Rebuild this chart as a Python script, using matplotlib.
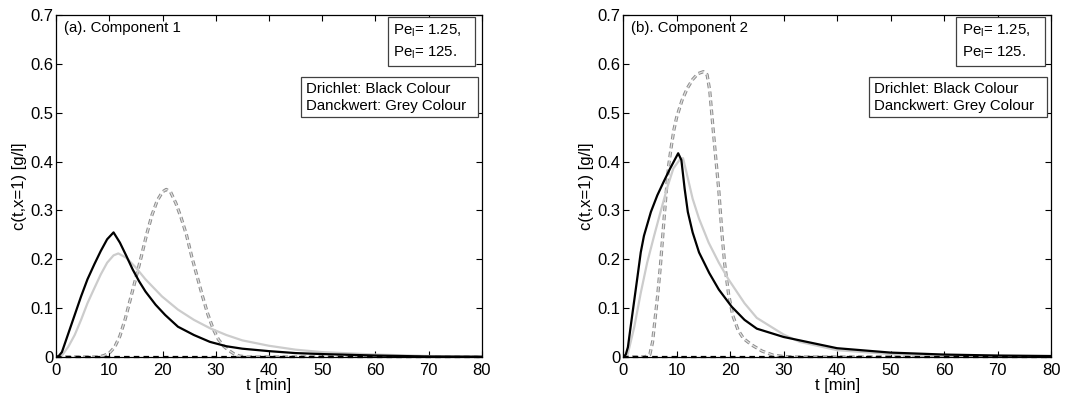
import numpy as np
import matplotlib
matplotlib.use("Agg")
import matplotlib.pyplot as plt
from matplotlib.patches import Rectangle

plt.rcParams['font.family'] = ['Liberation Sans', 'DejaVu Sans']
plt.rcParams['mathtext.fontset'] = 'custom'
plt.rcParams['mathtext.rm'] = 'Liberation Sans'
plt.rcParams['lines.scale_dashes'] = False

# ---- data (t in min, c in g/l) ----
# panel (a), component 1
t_a_black = [0, 0.5, 1.1, 2.3, 3.5, 4.7, 5.9, 7.2, 8.4, 9.6, 10.8, 12, 13.2, 14.4, 15.6,
             16.8, 18.7, 20.5, 22.9, 25.9, 28.9, 32, 35, 40, 45, 50, 60, 70, 80]
c_a_black = [0, 0.002, 0.01, 0.048, 0.086, 0.124, 0.159, 0.19, 0.217, 0.241, 0.255, 0.234,
             0.207, 0.179, 0.155, 0.134, 0.107, 0.086, 0.062, 0.045, 0.031, 0.022, 0.017,
             0.012, 0.008, 0.006, 0.003, 0.001, 0.0005]

t_a_grey = [0, 0.5, 1.1, 2.3, 3.5, 4.7, 5.9, 7.2, 8.4, 9.6, 10.8, 11.7, 13.2, 15, 16.8,
            19.9, 22.9, 25.9, 28.9, 32, 35, 40, 45, 50, 60, 70, 80]
c_a_grey = [0, 0.0005, 0.003, 0.021, 0.045, 0.076, 0.11, 0.141, 0.169, 0.193, 0.208, 0.212,
            0.203, 0.183, 0.159, 0.124, 0.097, 0.076, 0.059, 0.045, 0.034, 0.023, 0.015,
            0.01, 0.005, 0.002, 0.001]

t_a_dash = [0, 8, 9, 10, 11, 12, 13, 14, 15, 16, 17, 18, 19, 20, 20.7, 21.5, 22.5, 23.5,
            24.5, 25.5, 26.5, 27.5, 28.5, 29.5, 30.5, 31.5, 32.5, 33.5, 34.5, 36, 80]
c_a_dash = [0, 0, 0.003, 0.008, 0.02, 0.043, 0.078, 0.12, 0.162, 0.205, 0.25, 0.29, 0.32,
            0.338, 0.343, 0.338, 0.315, 0.285, 0.25, 0.205, 0.165, 0.125, 0.088, 0.058,
            0.036, 0.022, 0.013, 0.006, 0.002, 0, 0]

# panel (b), component 2
t_b_black = [0, 0.5, 0.9, 1.5, 2.1, 2.7, 3.3, 3.9, 5.2, 6.4, 7.6, 8.8, 10.3, 10.9, 11.5,
             12.1, 13, 14.2, 16.1, 17.9, 20.3, 22.7, 25, 30, 40, 50, 60, 70, 80]
c_b_black = [0, 0.005, 0.02, 0.069, 0.117, 0.165, 0.214, 0.248, 0.297, 0.331, 0.359, 0.386,
             0.417, 0.403, 0.345, 0.297, 0.255, 0.214, 0.172, 0.138, 0.103, 0.076, 0.058,
             0.041, 0.018, 0.009, 0.005, 0.003, 0.002]

t_b_grey = [0, 0.5, 0.9, 2.1, 3.3, 4.5, 5.8, 7, 8.2, 9.4, 10.6, 11.2, 11.8, 13, 14.2, 16,
            17.9, 19.7, 22.7, 25, 30, 33, 40, 50, 60, 70, 80]
c_b_grey = [0, 0.002, 0.007, 0.062, 0.131, 0.193, 0.248, 0.297, 0.345, 0.386, 0.404, 0.407,
            0.38, 0.324, 0.283, 0.234, 0.193, 0.159, 0.11, 0.08, 0.046, 0.031, 0.014,
            0.006, 0.003, 0.0015, 0.001]

t_b_dash = [0, 4, 5, 5.5, 6, 6.5, 7, 7.5, 8, 8.5, 9, 9.5, 10, 11, 12, 13, 14, 15, 15.7,
            16.2, 16.8, 17.3, 17.9, 18.5, 19, 19.7, 20.5, 21.5, 22.5, 24, 26, 28, 30, 32, 80]
c_b_dash = [0, 0, 0.005, 0.03, 0.08, 0.13, 0.19, 0.26, 0.33, 0.39, 0.43, 0.465, 0.49, 0.525,
            0.55, 0.568, 0.58, 0.584, 0.578, 0.545, 0.47, 0.41, 0.34, 0.25, 0.19, 0.13,
            0.085, 0.055, 0.038, 0.025, 0.012, 0.004, 0.001, 0, 0]

# black dashed series lies on the axis
t_zero = [0, 80]
c_zero = [0, 0]

panels = [
    ("(a). Component 1", t_a_black, c_a_black, t_a_grey, c_a_grey, t_a_dash, c_a_dash),
    ("(b). Component 2", t_b_black, c_b_black, t_b_grey, c_b_grey, t_b_dash, c_b_dash),
]

x_ticks = [0, 10, 20, 30, 40, 50, 60, 70, 80]
y_ticks = [0, 0.1, 0.2, 0.3, 0.4, 0.5, 0.6, 0.7]

fig = plt.figure(figsize=(10.78, 4.0), dpi=100)
axes_pos = [[0.052, 0.1075, 0.395, 0.855], [0.578, 0.1075, 0.397, 0.855]]

for pos, (title, tb, cb, tg, cg, td, cd) in zip(axes_pos, panels):
    ax = fig.add_axes(pos)
    ax.plot(td, cd, color='0.55', lw=2.3, dashes=(4, 2.5), solid_capstyle='butt')
    ax.plot(td, cd, color='0.88', lw=0.9, dashes=(4, 2.5))
    ax.plot(tg, cg, color='0.8', lw=1.6)
    ax.plot(tb, cb, color='k', lw=1.6)
    ax.plot(t_zero, c_zero, color='k', lw=1.6, dashes=(4, 3), clip_on=False, zorder=4)

    ax.set_xlim(0, 80)
    ax.set_ylim(0, 0.7)
    ax.set_xticks(x_ticks)
    ax.set_yticks(y_ticks)
    ax.set_xticklabels([str(v) for v in x_ticks])
    ax.set_yticklabels(['0'] + ['%.1f' % v for v in y_ticks[1:]])
    ax.tick_params(direction='in', top=True, right=True, length=4, width=0.8,
                   labelsize=12, pad=2)
    ax.tick_params(axis='x', pad=4)
    for s in ax.spines.values():
        s.set_linewidth(0.9)
    ax.set_xlabel('t [min]', fontsize=12, labelpad=0)
    ax.set_ylabel('c(t,x=1) [g/l]', fontsize=12, labelpad=2)

    ax.text(0.019, 0.962, title, transform=ax.transAxes, fontsize=10.8,
            ha='left', va='center')

    # Peclet box
    ax.add_patch(Rectangle((0.779, 0.851), 0.206, 0.143, transform=ax.transAxes,
                           fill=True, facecolor='white', edgecolor='0.25', lw=0.9,
                           zorder=5))
    ax.text(0.792, 0.953, r'Pe$_\mathrm{l}$= 1.25,', transform=ax.transAxes,
            fontsize=10.8, ha='left', va='center', zorder=6)
    ax.text(0.792, 0.890, r'Pe$_\mathrm{l}$= 125.', transform=ax.transAxes,
            fontsize=10.8, ha='left', va='center', zorder=6)

    # boundary condition box
    ax.add_patch(Rectangle((0.575, 0.702), 0.415, 0.117, transform=ax.transAxes,
                           fill=True, facecolor='white', edgecolor='0.25', lw=0.9,
                           zorder=5))
    ax.text(0.586, 0.785, 'Drichlet: Black Colour', transform=ax.transAxes,
            fontsize=10.8, ha='left', va='center', zorder=6)
    ax.text(0.586, 0.733, 'Danckwert: Grey Colour', transform=ax.transAxes,
            fontsize=10.8, ha='left', va='center', zorder=6)

fig.savefig('out.png', dpi=100)
